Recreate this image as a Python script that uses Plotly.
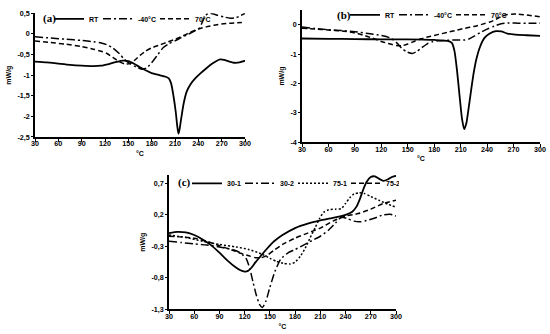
import plotly.graph_objects as go

# ---------------- Panel (a) ----------------
a_rt_x = [30, 45, 60, 75, 90, 105, 115, 125, 135, 143, 150, 158, 165, 172, 180, 190, 198, 202, 205, 208, 211, 213, 214.5, 216, 218, 221, 225, 230, 236, 242, 250, 258, 264, 268, 273, 280, 287, 293, 300]
a_rt_y = [-0.67, -0.69, -0.72, -0.75, -0.77, -0.78, -0.77, -0.73, -0.68, -0.65, -0.66, -0.73, -0.81, -0.88, -0.95, -1.0, -1.04, -1.08, -1.2, -1.5, -1.9, -2.25, -2.42, -2.3, -2.05, -1.7, -1.4, -1.22, -1.08, -0.97, -0.84, -0.72, -0.65, -0.62, -0.63, -0.67, -0.7, -0.69, -0.65]
a_40_x = [30, 50, 70, 90, 105, 115, 122, 130, 139, 145, 152, 160, 168, 174, 182, 188, 195, 202, 210, 218, 225, 233, 241, 245, 249, 253, 258, 265, 273, 281, 288, 294, 300]
a_40_y = [-0.07, -0.1, -0.13, -0.16, -0.19, -0.22, -0.26, -0.34, -0.49, -0.62, -0.72, -0.8, -0.86, -0.82, -0.65, -0.5, -0.33, -0.24, -0.17, -0.09, -0.03, 0.05, 0.13, 0.28, 0.44, 0.5, 0.49, 0.45, 0.41, 0.38, 0.39, 0.44, 0.5]
a_70_x = [30, 50, 70, 90, 105, 115, 122, 130, 139, 146, 152, 158, 165, 172, 180, 190, 200, 210, 220, 230, 240, 250, 260, 270, 280, 290, 300]
a_70_y = [-0.17, -0.21, -0.25, -0.31, -0.37, -0.42, -0.47, -0.57, -0.68, -0.73, -0.72, -0.64, -0.52, -0.42, -0.34, -0.27, -0.2, -0.13, -0.05, 0.04, 0.12, 0.17, 0.21, 0.24, 0.26, 0.27, 0.28]

# ---------------- Panel (b) ----------------
b_rt_x = [30, 60, 90, 120, 150, 180, 195, 200, 203, 206, 209, 211.5, 214, 216.5, 219, 222, 225, 228, 232, 237, 243, 250, 256, 263, 272, 285, 300]
b_rt_y = [-0.47, -0.48, -0.49, -0.5, -0.5, -0.52, -0.55, -0.62, -0.9, -1.6, -2.5, -3.2, -3.56, -3.35, -2.85, -2.2, -1.6, -1.15, -0.75, -0.45, -0.3, -0.22, -0.23, -0.3, -0.34, -0.36, -0.38]
b_40_x = [30, 45, 60, 75, 90, 105, 120, 130, 137, 143, 149, 155, 160, 166, 172, 178, 185, 195, 205, 215, 220, 226, 232, 240, 248, 256, 265, 275, 285, 300]
b_40_y = [-0.08, -0.13, -0.17, -0.2, -0.24, -0.3, -0.37, -0.45, -0.6, -0.8, -0.93, -0.98, -0.92, -0.78, -0.65, -0.58, -0.55, -0.53, -0.52, -0.52, -0.48, -0.38, -0.27, -0.15, -0.05, 0.03, 0.06, 0.05, 0.05, 0.05]
b_70_x = [30, 45, 60, 75, 90, 100, 110, 120, 130, 137, 143, 150, 157, 165, 175, 185, 195, 205, 215, 225, 235, 243, 250, 256, 262, 268, 275, 285, 300]
b_70_y = [-0.12, -0.15, -0.18, -0.21, -0.28, -0.36, -0.46, -0.57, -0.66, -0.71, -0.72, -0.66, -0.57, -0.48, -0.4, -0.33, -0.26, -0.19, -0.12, -0.06, 0.02, 0.09, 0.18, 0.28, 0.34, 0.36, 0.36, 0.33, 0.27]

# ---------------- Panel (c) ----------------
c_301_x = [30, 40, 50, 60, 70, 80, 90, 100, 108, 115, 120, 124, 128, 133, 140, 147, 155, 165, 180, 195, 210, 225, 240, 248, 253, 257, 261, 265, 270, 275, 280, 285, 290, 295, 300]
c_301_y = [-0.09, -0.07, -0.08, -0.12, -0.19, -0.28, -0.4, -0.53, -0.62, -0.68, -0.7, -0.69, -0.64, -0.55, -0.44, -0.33, -0.22, -0.12, -0.01, 0.06, 0.11, 0.15, 0.2, 0.25, 0.33, 0.45, 0.6, 0.72, 0.8, 0.81, 0.77, 0.74, 0.76, 0.8, 0.82]
c_302_x = [30, 45, 60, 75, 90, 105, 113, 118, 122, 126, 130, 134, 138, 141, 145, 150, 156, 163, 172, 180, 190, 200, 210, 220, 228, 235, 242, 250, 258, 265, 275, 285, 293, 300]
c_302_y = [-0.22, -0.24, -0.26, -0.28, -0.31, -0.35, -0.39, -0.44, -0.5, -0.65, -0.87, -1.08, -1.23, -1.27, -1.18, -0.95, -0.7, -0.5, -0.4, -0.35, -0.28, -0.21, -0.14, -0.04, 0.07, 0.16, 0.14, 0.1, 0.09, 0.11, 0.15, 0.2, 0.21, 0.18]
c_751_x = [30, 50, 70, 90, 110, 125, 140, 150, 158, 166, 174, 180, 186, 192, 198, 204, 209, 214, 220, 228, 235, 240, 245, 250, 256, 262, 270, 280, 290, 300]
c_751_y = [-0.12, -0.16, -0.22, -0.27, -0.31, -0.35, -0.42, -0.49, -0.54, -0.57, -0.58, -0.55, -0.46, -0.33, -0.16, 0.0, 0.14, 0.24, 0.28, 0.29, 0.3, 0.38, 0.47, 0.53, 0.55, 0.54, 0.49, 0.43, 0.37, 0.32]
c_752_x = [30, 45, 60, 75, 90, 105, 115, 125, 133, 140, 147, 155, 165, 180, 195, 210, 225, 240, 255, 270, 285, 300]
c_752_y = [-0.14, -0.15, -0.17, -0.22, -0.29, -0.36, -0.41, -0.45, -0.48, -0.48, -0.44, -0.36, -0.27, -0.17, -0.09, -0.01, 0.1, 0.18, 0.22, 0.29, 0.38, 0.43]

# ticks
x_ticks = [30, 60, 90, 120, 150, 180, 210, 240, 270, 300]
a_yticks = [0.5, 0, -0.5, -1, -1.5, -2, -2.5]
a_ylabels = ["0,5", "0", "-0,5", "-1", "-1,5", "-2", "-2,5"]
b_yticks = [0, -1, -2, -3, -4]
b_ylabels = ["0", "-1", "-2", "-3", "-4"]
c_yticks = [0.7, 0.2, -0.3, -0.8, -1.3]
c_ylabels = ["0,7", "0,2", "-0,3", "-0,8", "-1,3"]

SOLID = "solid"
DASH = "5px,3px"
DASHDOT = "8px,3px,2px,3px"
DOT = "2px,2px"

W, H = 550, 334
fig = go.Figure()

def add(x, y, name, dash, xa, ya, leg, lw, w=1.5):
    fig.add_trace(go.Scatter(x=x, y=y, name=name, mode="lines",
                             line=dict(color="black", width=w, dash=dash, shape="spline", smoothing=0.6),
                             xaxis=xa, yaxis=ya, legend=leg, legendwidth=lw))

add(a_rt_x, a_rt_y, "RT", SOLID, "x", "y", "legend", 4, 1.8)
add(a_40_x, a_40_y, "-40°C", DASHDOT, "x", "y", "legend", 12)
add(a_70_x, a_70_y, "70°C", DASH, "x", "y", "legend", 12)
add(b_rt_x, b_rt_y, "RT", SOLID, "x2", "y2", "legend2", 4, 1.8)
add(b_40_x, b_40_y, "-40°C", DASHDOT, "x2", "y2", "legend2", 12)
add(b_70_x, b_70_y, "70°C", DASH, "x2", "y2", "legend2", 12)
add(c_301_x, c_301_y, "30-1", SOLID, "x3", "y3", "legend3", 8, 1.8)
add(c_302_x, c_302_y, "30-2", DASHDOT, "x3", "y3", "legend3", 8)
add(c_751_x, c_751_y, "75-1", DOT, "x3", "y3", "legend3", 8)
add(c_752_x, c_752_y, "75-2", DASH, "x3", "y3", "legend3", 8)

FONT = "Liberation Sans"
tf = dict(family=FONT, size=7.2, color="black", weight="bold")
titlef = dict(family=FONT, size=7, color="black", weight="bold")

def xax(domain, anchor):
    return dict(domain=domain, anchor=anchor, range=[30, 300], tickvals=x_ticks,
                showline=True, linecolor="black", linewidth=1.5, ticks="outside",
                ticklen=3, tickwidth=1.2, tickcolor="black", showgrid=False, zeroline=False,
                ticklabelstandoff=-4,
                automargin=False, tickfont=tf, title=dict(text="°C", font=titlef, standoff=4))

def yax(domain, anchor, rng, tv, tt):
    return dict(domain=domain, anchor=anchor, range=rng, tickvals=tv, ticktext=tt,
                showline=True, linecolor="black", linewidth=1.5, ticks="outside",
                ticklen=2, tickwidth=1, tickcolor="black", showgrid=False, zeroline=False,
                automargin=False, tickfont=tf, title=dict(text="mW/g", font=titlef, standoff=5))

legf = dict(family=FONT, size=7, color="black", weight="bold")

def leg(xpx, ypx):
    return dict(orientation="h", x=xpx / W, y=1 - ypx / H, xanchor="left", yanchor="middle",
                font=legf, bgcolor="rgba(0,0,0,0)", itemwidth=30, entrywidthmode="pixels")

fig.update_layout(
    width=W, height=H, margin=dict(l=0, r=0, t=0, b=0),
    paper_bgcolor="white", plot_bgcolor="white",
    xaxis=xax([35/W, 245/W], "y"),
    yaxis=yax([1-134/H, 1-8.4/H], "x", [-2.5, 0.5], a_yticks, a_ylabels),
    xaxis2=xax([302/W, 540/W], "y2"),
    yaxis2=yax([1-139.2/H, 1-5.1/H], "x2", [-4, 0.5], b_yticks, b_ylabels),
    xaxis3=xax([169/W, 396/W], "y3"),
    yaxis3=yax([1-309/H, 1-172.7/H], "x3", [-1.3, 0.83], c_yticks, c_ylabels),
    legend=leg(49, 14),
    legend2=leg(345, 10),
    legend3=leg(187, 181),
)
for lab, xpx, ypx in [("(a)", 41, 14), ("(b)", 335, 11), ("(c)", 176, 180)]:
    fig.add_annotation(text=lab, x=xpx / W, y=1 - ypx / H, xref="paper", yref="paper", showarrow=False,
                       xanchor="left", yanchor="middle",
                       font=dict(family="Liberation Serif", size=11, color="black", weight="bold"))

fig.write_html("out.html", config={"displayModeBar": False},
               post_script="document.body.style.margin='0px';document.body.style.padding='0px';")
